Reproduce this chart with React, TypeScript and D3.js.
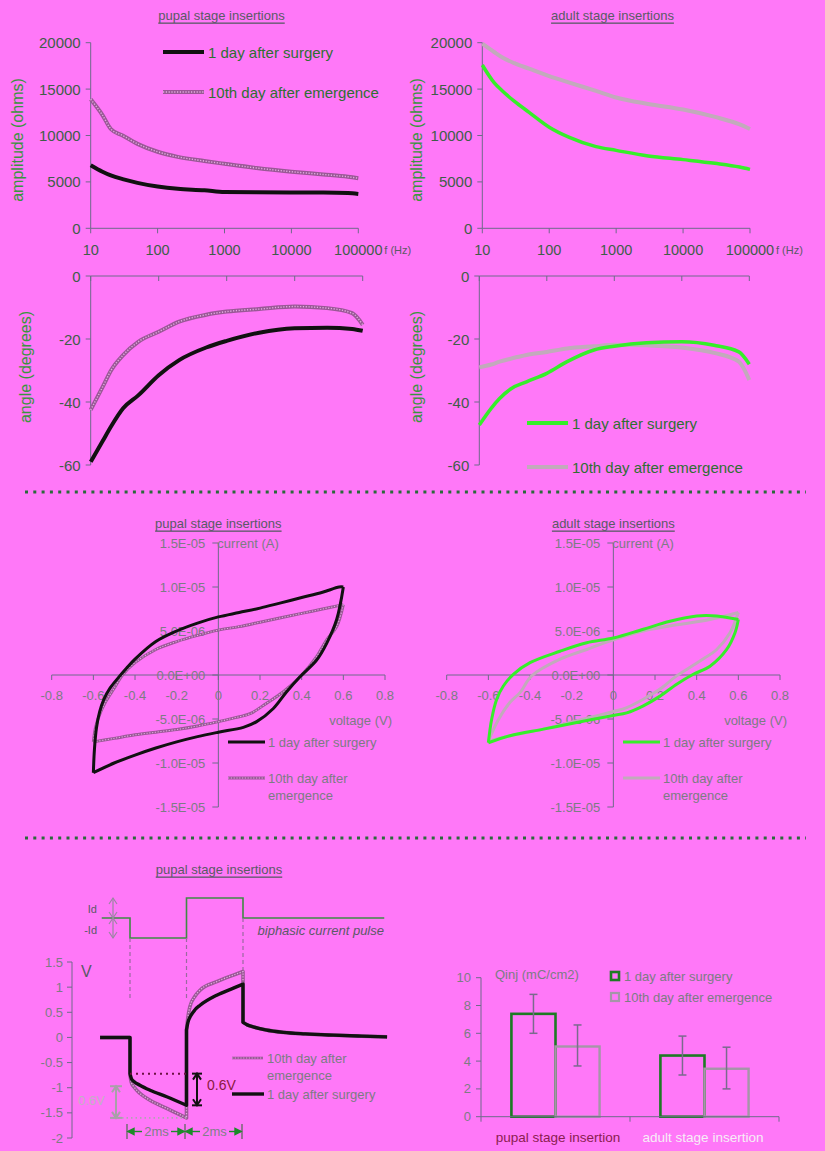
import React from 'react';
import * as d3 from 'd3';

const FONT = '"Liberation Sans", Arial, Helvetica, sans-serif';
const BG = '#ff78f8';
const AXIS = '#6e6a8a';
const TICK = '#3e5e48';
const GREEN_TXT = '#2f6f33';
const GRAY_TXT = '#7c7c84';

// impedance spectra
const freqs = [10, 15, 20, 30, 50, 100, 200, 500, 1000, 3000, 10000, 30000, 70000, 100000];
const freqTicks = [10, 100, 1000, 10000, 100000];
const freqLabels = ['10', '100', '1000', '10000', '100000'];
const ampTicks = [0, 5000, 10000, 15000, 20000];
const angTicks = [0, -20, -40, -60];

const ampPupalDay1 = [6800, 6100, 5700, 5300, 4900, 4500, 4250, 4100, 3900, 3880, 3870, 3860, 3800, 3700];
const ampPupalDay10 = [13900, 12200, 10700, 10000, 9100, 8250, 7700, 7250, 6950, 6500, 6100, 5800, 5550, 5400];
const ampAdultDay1 = [17600, 15700, 14800, 13700, 12500, 10900, 9800, 8800, 8400, 7800, 7400, 7000, 6600, 6350];
const ampAdultDay10 = [19900, 19000, 18400, 17800, 17200, 16400, 15700, 14800, 14100, 13400, 12800, 12000, 11200, 10700];

const angPupalDay1 = [-59, -52.4, -47.7, -42, -37.9, -31.5, -26.7, -22.7, -20.6, -18, -16.6, -16.4, -16.8, -17.4];
const angPupalDay10 = [-42.5, -35.2, -29.9, -25.1, -20.9, -17.7, -14.5, -12.3, -11.3, -10.5, -9.7, -10.2, -11.8, -15.5];
const angAdultDay1 = [-47.3, -42, -38.9, -35.7, -33.6, -30.9, -27.2, -23.5, -22.3, -21.2, -20.9, -22, -24.1, -28];
const angAdultDay10 = [-29, -28.1, -27.2, -26.2, -25.1, -24.1, -23, -22.3, -21.8, -22, -22.7, -24.4, -27.2, -33];

// cyclic voltammetry (current in 1E-6 A)
const cvXTicks = [-0.8, -0.6, -0.4, -0.2, 0, 0.2, 0.4, 0.6, 0.8];
const cvXLabels = ['-0.8', '-0.6', '-0.4', '-0.2', '0', '0.2', '0.4', '0.6', '0.8'];
const cvYTicks = [15, 10, 5, 0, -5, -10, -15];
const cvYLabels = ['1.5E-05', '1.0E-05', '5.0E-06', '0.0E+00', '-5.0E-06', '-1.0E-05', '-1.5E-05'];

const cvPupalDay1UpV = [-0.6, -0.595, -0.585, -0.57, -0.55, -0.52, -0.48, -0.44, -0.4, -0.3, -0.2, -0.1, 0, 0.1, 0.2, 0.3, 0.4, 0.5, 0.58, 0.6];
const cvPupalDay1UpI = [-11.1, -8.5, -6, -4.2, -2.8, -1.5, -0.3, 0.8, 1.8, 3.8, 5, 5.9, 6.6, 7.1, 7.6, 8.2, 8.8, 9.4, 10, 10];
const cvPupalDay1DnV = [0.6, 0.568, 0.52, 0.472, 0.392, 0.328, 0.264, 0.184, 0.12, 0, -0.1, -0.2, -0.3, -0.4, -0.5, -0.6];
const cvPupalDay1DnI = [10, 6.3, 3.6, 1.7, -0.2, -1.9, -3.8, -5.3, -5.95, -6.5, -7, -7.6, -8.3, -9.1, -10, -11.1];
const cvPupalDay10UpV = [-0.6, -0.59, -0.57, -0.54, -0.5, -0.46, -0.4, -0.3, -0.2, -0.1, 0, 0.1, 0.2, 0.3, 0.4, 0.5, 0.6];
const cvPupalDay10UpI = [-7.6, -6, -4.5, -3, -1.5, 0, 1.4, 2.9, 3.8, 4.5, 5.1, 5.5, 6, 6.5, 7, 7.5, 8];
const cvPupalDay10DnV = [0.6, 0.568, 0.52, 0.472, 0.392, 0.312, 0.232, 0.152, 0.072, 0, -0.1, -0.2, -0.3, -0.4, -0.5, -0.6];
const cvPupalDay10DnI = [8, 5.5, 4, 2.1, -0.2, -1.9, -3.2, -4.4, -4.9, -5.3, -5.8, -6.2, -6.5, -6.8, -7.2, -7.6];

const cvAdultDay1UpV = [-0.6, -0.584, -0.56, -0.528, -0.48, -0.4, -0.256, -0.128, 0, 0.144, 0.272, 0.4, 0.496, 0.6];
const cvAdultDay1UpI = [-7.7, -5, -2.75, -1.25, 0.08, 1.4, 2.7, 3.66, 4.2, 5.2, 6.1, 6.7, 6.7, 6.3];
const cvAdultDay1DnV = [0.6, 0.584, 0.544, 0.464, 0.384, 0.304, 0.224, 0.144, 0.064, 0, -0.176, -0.336, -0.496, -0.6];
const cvAdultDay1DnI = [6.3, 4.8, 2.9, 1, 0.08, -1.05, -2.4, -3.5, -4.3, -4.6, -5.4, -6.15, -6.9, -7.7];
const cvAdultDay10UpV = [-0.6, -0.55, -0.496, -0.448, -0.392, -0.256, -0.128, 0, 0.144, 0.304, 0.464, 0.6];
const cvAdultDay10UpI = [-7.5, -5, -3.1, -2, -0.1, 1.8, 2.9, 4, 5, 5.7, 6.3, 7.1];
const cvAdultDay10DnV = [0.6, 0.56, 0.496, 0.416, 0.304, 0.224, 0.144, 0.064, 0, -0.176, -0.336, -0.496, -0.6];
const cvAdultDay10DnI = [7.1, 4.8, 2.9, 1.6, -0.1, -1.6, -2.75, -3.7, -4.15, -5.2, -6.15, -6.9, -7.5];

// biphasic pulse response (ms, V)
const pulseYTicks = [1.5, 1, 0.5, 0, -0.5, -1, -1.5, -2];
const pulseYLabels = ['1.5', '1', '0.5', '0', '-0.5', '-1', '-1.5', '-2'];
const currentT = [-1, 0, 0, 2, 2, 4, 4, 9];
const currentI = [0, 0, -1, -1, 1, 1, 0, 0];
const restT = [-1.06, 0];
const restV = [0, 0];
const day1NegT = [0, 0.05, 0.15, 0.35, 0.71, 1.3, 2];
const day1NegV = [-0.72, -0.82, -0.88, -0.95, -1.05, -1.18, -1.35];
const day1PosT = [2, 2.05, 2.15, 2.3, 2.48, 3.07, 3.66, 4];
const day1PosV = [0.15, 0.3, 0.43, 0.55, 0.64, 0.84, 0.98, 1.06];
const day10NegT = [0, 0.05, 0.15, 0.35, 0.71, 1.3, 2];
const day10NegV = [-0.75, -0.9, -0.99, -1.11, -1.25, -1.41, -1.6];
const day10PosT = [2, 2.05, 2.12, 2.3, 2.48, 3.07, 3.66, 4];
const day10PosV = [0.15, 0.4, 0.61, 0.82, 0.94, 1.11, 1.24, 1.31];
const relaxT = [4, 4.15, 4.36, 4.8, 5.43, 6.2, 7.2, 8.2, 9.1];
const relaxV = [0.3, 0.25, 0.21, 0.15, 0.1, 0.07, 0.045, 0.025, 0.01];

// injected charge
const barGroups = ['pupal stage insertion', 'adult stage insertion'];
const barSeries = ['1 day after surgery', '10th day after emergence'];
const qinjDay1 = [7.4, 4.4];
const qinjDay10 = [5.05, 3.45];
const qinjDay1Lo = [6.0, 3.0];
const qinjDay1Hi = [8.8, 5.8];
const qinjDay10Lo = [3.65, 2.0];
const qinjDay10Hi = [6.6, 5.0];
const barTicks = [0, 2, 4, 6, 8, 10];

const Mauve = ({ d, w = 3.8 }: { d: string; w?: number }) => (
  <g>
    <path d={d} fill="none" stroke="#9a5896" strokeWidth={w} strokeLinejoin="round" />
    <path d={d} fill="none" stroke="#e2aee0" strokeWidth={w * 0.35} strokeDasharray="1.2 1.6" />
  </g>
);

const Curve = ({ d, kind, w }: { d: string; kind: string; w: number }) => {
  if (kind === 'mauve') return <Mauve d={d} w={w} />;
  const stroke = kind === 'black' ? '#111' : kind === 'green' ? '#36ee2a' : '#c2aabb';
  return <path d={d} fill="none" stroke={stroke} strokeWidth={w} strokeLinejoin="round" />;
};

const Title = ({ x, y, text }: { x: number; y: number; text: string }) => (
  <text x={x} y={y} textAnchor="middle" dominantBaseline="central" fontSize={13} fill="#5a5a66" textDecoration="underline">
    {text}
  </text>
);

function FreqPanel({ xr, yr, domain, yTicks, series, showX, label, labelX, labelY }: any) {
  const x = d3.scaleLog().domain([10, 100000]).range(xr);
  const y = d3.scaleLinear().domain(domain).range(yr);
  const axisY = showX ? y(domain[0]) : y(domain[1]);
  const mk = d3.line<number>().x((_, i) => x(freqs[i])).y(v => y(v)).curve(d3.curveMonotoneX);
  return (
    <g>
      <line x1={xr[0]} x2={xr[0]} y1={yr[0]} y2={yr[1]} stroke={AXIS} />
      <line x1={xr[0]} x2={xr[1]} y1={axisY} y2={axisY} stroke={AXIS} />
      {freqTicks.map(f => (
        <line key={f} x1={x(f)} x2={x(f)} y1={axisY} y2={axisY + 5} stroke={AXIS} />
      ))}
      {yTicks.map((v: number) => (
        <g key={v}>
          <line x1={xr[0] - 5} x2={xr[0]} y1={y(v)} y2={y(v)} stroke={AXIS} />
          <text x={xr[0] - 10} y={y(v)} textAnchor="end" dominantBaseline="central" fontSize={15} fill={TICK}>
            {v}
          </text>
        </g>
      ))}
      {showX &&
        freqTicks.map((f, i) => (
          <text key={f} x={x(f)} y={250} textAnchor="middle" dominantBaseline="central" fontSize={14.5} fill={TICK}>
            {freqLabels[i]}
          </text>
        ))}
      {showX && (
        <text x={xr[1] + 26} y={250} dominantBaseline="central" fontSize={11} fill="#5a5a66">
          f (Hz)
        </text>
      )}
      <text transform={`translate(${labelX},${labelY}) rotate(-90)`} textAnchor="middle" dominantBaseline="central" fontSize={16} fill="#3a9440">
        {label}
      </text>
      {series.map((s: any, i: number) => (
        <Curve key={i} d={mk(s.values) as string} kind={s.kind} w={s.kind === 'green' ? 3.5 : 4} />
      ))}
    </g>
  );
}

function FreqLegend({ x, ys, kinds, size }: any) {
  return (
    <g>
      {kinds.map((k: string, i: number) => (
        <g key={i}>
          <Curve d={`M${x},${ys[i]}H${x + 41}`} kind={k} w={4} />
          <text x={x + 45} y={ys[i]} dominantBaseline="central" fontSize={size} fill={GREEN_TXT}>
            {barSeries[i]}
          </text>
        </g>
      ))}
    </g>
  );
}

function CVPanel({ xr, title, curves, legendX, legendKinds }: any) {
  const x = d3.scaleLinear().domain([-0.8, 0.8]).range(xr);
  const y = d3.scaleLinear().domain([-15, 15]).range([807, 543]);
  const x0 = x(0);
  const y0 = y(0);
  const mk = (vs: number[], is: number[]) =>
    d3.line<number>().x(v => x(v)).y((_, i) => y(is[i])).curve(d3.curveCatmullRom.alpha(0.5))(vs) as string;
  return (
    <g>
      <Title x={x0} y={523} text={title} />
      <line x1={x0} x2={x0} y1={y(15)} y2={y(-15)} stroke={AXIS} />
      <line x1={x(-0.8)} x2={x(0.8)} y1={y0} y2={y0} stroke={AXIS} />
      {cvXTicks.map((v, i) => (
        <g key={v}>
          <line x1={x(v)} x2={x(v)} y1={y0} y2={y0 + 5} stroke={AXIS} />
          <text x={x(v)} y={y0 + 20} textAnchor="middle" dominantBaseline="central" fontSize={13} fill={GRAY_TXT}>
            {cvXLabels[i]}
          </text>
        </g>
      ))}
      {cvYTicks.map((v, i) => (
        <g key={v}>
          <line x1={x0 - 6} x2={x0} y1={y(v)} y2={y(v)} stroke={AXIS} />
          <text x={x0 - 13} y={y(v)} textAnchor="end" dominantBaseline="central" fontSize={13} fill={GRAY_TXT}>
            {cvYLabels[i]}
          </text>
        </g>
      ))}
      <text x={x0 - 1} y={y(15)} dominantBaseline="central" fontSize={13} fill={GRAY_TXT}>
        current (A)
      </text>
      <text x={xr[1] + 7} y={720} textAnchor="end" dominantBaseline="central" fontSize={13} fill={GRAY_TXT}>
        voltage (V)
      </text>
      {curves.map((c: any, i: number) => (
        <g key={i}>
          <Curve d={mk(c.upV, c.upI)} kind={c.kind} w={3} />
          <Curve d={mk(c.dnV, c.dnI)} kind={c.kind} w={3} />
        </g>
      ))}
      {legendKinds.map((k: string, i: number) => (
        <Curve key={'l' + i} d={`M${legendX},${i ? 778 : 742}H${legendX + 37}`} kind={k} w={3} />
      ))}
      <text x={legendX + 40} y={742} dominantBaseline="central" fontSize={13} fill={GRAY_TXT}>
        1 day after surgery
      </text>
      <text x={legendX + 40} y={778} dominantBaseline="central" fontSize={13} fill={GRAY_TXT}>
        10th day after
      </text>
      <text x={legendX + 40} y={795} dominantBaseline="central" fontSize={13} fill={GRAY_TXT}>
        emergence
      </text>
    </g>
  );
}

const Arrow2 = ({ x, y1, y2, color, w, cap }: any) => (
  <g stroke={color} strokeWidth={w} fill="none">
    <line x1={x} x2={x} y1={y1} y2={y2} />
    <polyline points={`${x - 4},${y1 + 6} ${x},${y1} ${x + 4},${y1 + 6}`} />
    <polyline points={`${x - 4},${y2 - 6} ${x},${y2} ${x + 4},${y2 - 6}`} />
    {cap && <line x1={x - cap} x2={x + cap} y1={y1} y2={y1} />}
    {cap && <line x1={x - cap} x2={x + cap} y1={y2} y2={y2} />}
  </g>
);

function PulsePanel() {
  const t = d3.scaleLinear().domain([-1, 9]).range([101.75, 384.25]);
  const v = d3.scaleLinear().domain([-2, 1.5]).range([1138, 962]);
  const iy = d3.scaleLinear().domain([-1, 1]).range([938, 898]);
  const seg = (ts: number[], vs: number[]) => ts.map((tt, i) => [t(tt), v(vs[i])] as [number, number]);
  const join = (...segs: [number, number][][]) =>
    segs
      .map((s, k) => {
        const p = d3.line().curve(d3.curveMonotoneX)(s) as string;
        return k ? p.replace(/^M/, 'L') : p;
      })
      .join('');
  const day10 = join(seg(restT, restV), seg(day10NegT, day10NegV), seg(day10PosT, day10PosV), seg(relaxT, relaxV));
  const day1 = join(seg(restT, restV), seg(day1NegT, day1NegV), seg(day1PosT, day1PosV), seg(relaxT, relaxV));
  const current = d3.line<number>().x(tt => t(tt)).y((_, i) => iy(currentI[i]))(currentT) as string;
  const yAx = 72;
  const msY = 1131.5;
  return (
    <g>
      <Title x={219} y={869} text="pupal stage insertions" />
      <path d={current} fill="none" stroke="#3f8a44" strokeWidth={1.6} />
      <text x={384} y={930} textAnchor="end" dominantBaseline="central" fontSize={13} fontStyle="italic" fill="#5a5a66">
        biphasic current pulse
      </text>
      <g stroke="#9a6aa0" strokeWidth={1.2} strokeDasharray="4 3">
        <line x1={t(0)} x2={t(0)} y1={iy(-1)} y2={998} />
        <line x1={t(2)} x2={t(2)} y1={iy(-1)} y2={998} />
        <line x1={t(4)} x2={t(4)} y1={iy(0)} y2={975} />
      </g>
      <Arrow2 x={113} y1={iy(1)} y2={iy(0)} color="#9a86a2" w={1.2} />
      <Arrow2 x={113} y1={iy(0)} y2={iy(-1)} color="#9a86a2" w={1.2} />
      <text x={97} y={909} textAnchor="end" dominantBaseline="central" fontSize={11} fill="#5a5a66">Id</text>
      <text x={97} y={930} textAnchor="end" dominantBaseline="central" fontSize={11} fill="#5a5a66">-Id</text>

      <line x1={yAx} x2={yAx} y1={v(1.5)} y2={v(-2)} stroke={AXIS} />
      {pulseYTicks.map((p, i) => (
        <g key={p}>
          <line x1={yAx - 5} x2={yAx} y1={v(p)} y2={v(p)} stroke={AXIS} />
          <text x={63} y={v(p)} textAnchor="end" dominantBaseline="central" fontSize={13} fill={GRAY_TXT}>
            {pulseYLabels[i]}
          </text>
        </g>
      ))}
      <text x={81} y={971} dominantBaseline="central" fontSize={16} fill="#5a5a66">V</text>

      <Mauve d={day10} w={3.6} />
      <path d={day1} fill="none" stroke="#111" strokeWidth={3.4} strokeLinejoin="round" />

      <line x1={t(0)} x2={t(2.05)} y1={v(-0.72)} y2={v(-0.72)} stroke="#6a1040" strokeWidth={2} strokeDasharray="2 4" />
      <line x1={113} x2={t(2)} y1={v(-1.6)} y2={v(-1.6)} stroke="#b3a3b3" strokeWidth={1.6} strokeDasharray="1.5 3" />
      <Arrow2 x={197} y1={v(-0.72)} y2={v(-1.35)} color="#111" w={2} cap={5} />
      <Arrow2 x={116} y1={v(-0.97)} y2={v(-1.6)} color="#a8a0a8" w={2} cap={6} />
      <text x={207} y={1085} dominantBaseline="central" fontSize={14} fill="#8a1a40">0.6V</text>
      <text x={78} y={1100} dominantBaseline="central" fontSize={13} fill="#c2b2c2">0.6V</text>

      <g stroke="#1e8a2a" strokeWidth={1.4} fill="#1e8a2a">
        {[127, 185, 242].map(xx => (
          <line key={xx} x1={xx} x2={xx} y1={1124} y2={1139} stroke="#6a6a6a" />
        ))}
        <line x1={128} x2={142} y1={msY} y2={msY} />
        <line x1={171} x2={184} y1={msY} y2={msY} />
        <line x1={186} x2={200} y1={msY} y2={msY} />
        <line x1={229} x2={241} y1={msY} y2={msY} />
        <polygon points={`128,${msY} 134,${msY - 3} 134,${msY + 3}`} />
        <polygon points={`184,${msY} 178,${msY - 3} 178,${msY + 3}`} />
        <polygon points={`186,${msY} 192,${msY - 3} 192,${msY + 3}`} />
        <polygon points={`241,${msY} 235,${msY - 3} 235,${msY + 3}`} />
      </g>
      <text x={156.5} y={msY} textAnchor="middle" dominantBaseline="central" fontSize={13} fill="#808088">2ms</text>
      <text x={214.5} y={msY} textAnchor="middle" dominantBaseline="central" fontSize={13} fill="#808088">2ms</text>

      <Mauve d="M232,1058H263" w={2.6} />
      <path d="M232,1094H264" stroke="#111" strokeWidth={3.4} />
      <text x={267} y={1058} dominantBaseline="central" fontSize={13} fill={GRAY_TXT}>10th day after</text>
      <text x={267} y={1075} dominantBaseline="central" fontSize={13} fill={GRAY_TXT}>emergence</text>
      <text x={267} y={1094} dominantBaseline="central" fontSize={13} fill={GRAY_TXT}>1 day after surgery</text>
    </g>
  );
}

function BarPanel() {
  const x = d3.scaleBand<string>().domain(barGroups).range([481, 779]);
  const xi = d3.scaleBand<string>().domain(barSeries).range([0, x.bandwidth()]).paddingInner(0).paddingOuter(0.69);
  const y = d3.scaleLinear().domain([0, 10]).range([1116.7, 977.7]);
  const bw = xi.bandwidth();
  const sets = [
    { key: barSeries[0], vals: qinjDay1, lo: qinjDay1Lo, hi: qinjDay1Hi, stroke: '#1d7a24', w: 2.6 },
    { key: barSeries[1], vals: qinjDay10, lo: qinjDay10Lo, hi: qinjDay10Hi, stroke: '#a595a8', w: 2.4 },
  ];
  return (
    <g>
      {sets.map(s =>
        barGroups.map((g, gi) => {
          const bx = (x(g) as number) + (xi(s.key) as number);
          return (
            <rect key={s.key + g} x={bx} y={y(s.vals[gi])} width={bw} height={y(0) - y(s.vals[gi])} fill="none" stroke={s.stroke} strokeWidth={s.w} />
          );
        })
      )}
      {sets.map(s =>
        barGroups.map((g, gi) => {
          const cx = (x(g) as number) + (xi(s.key) as number) + bw / 2;
          return (
            <g key={'e' + s.key + g} stroke="#7a6a8e" strokeWidth={1.5}>
              <line x1={cx} x2={cx} y1={y(s.lo[gi])} y2={y(s.hi[gi])} />
              <line x1={cx - 4} x2={cx + 4} y1={y(s.lo[gi])} y2={y(s.lo[gi])} />
              <line x1={cx - 4} x2={cx + 4} y1={y(s.hi[gi])} y2={y(s.hi[gi])} />
            </g>
          );
        })
      )}
      <line x1={481} x2={481} y1={y(10)} y2={y(0)} stroke={AXIS} />
      <line x1={481} x2={779} y1={y(0)} y2={y(0)} stroke={AXIS} />
      {[481, 630, 779].map(xx => (
        <line key={xx} x1={xx} x2={xx} y1={y(0)} y2={y(0) + 5} stroke={AXIS} />
      ))}
      {barTicks.map(b => (
        <g key={b}>
          <line x1={476} x2={481} y1={y(b)} y2={y(b)} stroke={AXIS} />
          <text x={471} y={y(b)} textAnchor="end" dominantBaseline="central" fontSize={13} fill={GRAY_TXT}>{b}</text>
        </g>
      ))}
      <text x={495} y={974} dominantBaseline="central" fontSize={13} fill={GRAY_TXT}>Qinj (mC/cm2)</text>
      <rect x={611} y={972} width={8} height={8} fill="none" stroke="#1d7a24" strokeWidth={2.6} />
      <rect x={611} y={993} width={8} height={8} fill="none" stroke="#a595a8" strokeWidth={2.2} />
      <text x={624} y={976} dominantBaseline="central" fontSize={13} fill={GRAY_TXT}>{barSeries[0]}</text>
      <text x={624} y={997} dominantBaseline="central" fontSize={13} fill={GRAY_TXT}>{barSeries[1]}</text>
      <text x={558} y={1137} textAnchor="middle" dominantBaseline="central" fontSize={13.5} fill="#8a2050">{barGroups[0]}</text>
      <text x={703} y={1137} textAnchor="middle" dominantBaseline="central" fontSize={13.5} fill="#f6eef6">{barGroups[1]}</text>
    </g>
  );
}

export default function App() {
  return (
    <svg width={825} height={1151} style={{ position: 'absolute', left: 0, top: 0 }} fontFamily={FONT}>
      <rect width={825} height={1151} fill={BG} />

      <Title x={221.5} y={15} text="pupal stage insertions" />
      <Title x={612.5} y={15} text="adult stage insertions" />

      <FreqPanel
        xr={[90.7, 358.3]} yr={[228.3, 42.7]} domain={[0, 20000]} yTicks={ampTicks} showX
        label="amplitude (ohms)" labelX={17} labelY={140}
        series={[{ values: ampPupalDay10, kind: 'mauve' }, { values: ampPupalDay1, kind: 'black' }]}
      />
      <FreqLegend x={163} ys={[52, 92]} kinds={['black', 'mauve']} size={15} />

      <FreqPanel
        xr={[482.3, 750]} yr={[228.3, 42.7]} domain={[0, 20000]} yTicks={ampTicks} showX
        label="amplitude (ohms)" labelX={416} labelY={140}
        series={[{ values: ampAdultDay10, kind: 'gray' }, { values: ampAdultDay1, kind: 'green' }]}
      />

      <FreqPanel
        xr={[90.7, 362.7]} yr={[465, 276]} domain={[-60, 0]} yTicks={angTicks} showX={false}
        label="angle (degrees)" labelX={25} labelY={367}
        series={[{ values: angPupalDay10, kind: 'mauve' }, { values: angPupalDay1, kind: 'black' }]}
      />

      <FreqPanel
        xr={[479.3, 749.3]} yr={[465, 276]} domain={[-60, 0]} yTicks={angTicks} showX={false}
        label="angle (degrees)" labelX={416} labelY={367}
        series={[{ values: angAdultDay10, kind: 'gray' }, { values: angAdultDay1, kind: 'green' }]}
      />
      <FreqLegend x={527} ys={[423, 467]} kinds={['green', 'gray']} size={15} />

      <line x1={25} x2={806} y1={492} y2={492} stroke="#2a6a3a" strokeWidth={3} strokeDasharray="3 5.3" />

      <CVPanel
        xr={[51.7, 385]} title="pupal stage insertions" legendX={228} legendKinds={['black', 'mauve']}
        curves={[
          { kind: 'mauve', upV: cvPupalDay10UpV, upI: cvPupalDay10UpI, dnV: cvPupalDay10DnV, dnI: cvPupalDay10DnI },
          { kind: 'black', upV: cvPupalDay1UpV, upI: cvPupalDay1UpI, dnV: cvPupalDay1DnV, dnI: cvPupalDay1DnI },
        ]}
      />
      <CVPanel
        xr={[446.7, 780]} title="adult stage insertions" legendX={623} legendKinds={['green', 'gray']}
        curves={[
          { kind: 'gray', upV: cvAdultDay10UpV, upI: cvAdultDay10UpI, dnV: cvAdultDay10DnV, dnI: cvAdultDay10DnI },
          { kind: 'green', upV: cvAdultDay1UpV, upI: cvAdultDay1UpI, dnV: cvAdultDay1DnV, dnI: cvAdultDay1DnI },
        ]}
      />

      <line x1={25} x2={806} y1={838} y2={838} stroke="#2a6a3a" strokeWidth={3} strokeDasharray="3 5.3" />

      <PulsePanel />
      <BarPanel />
    </svg>
  );
}
